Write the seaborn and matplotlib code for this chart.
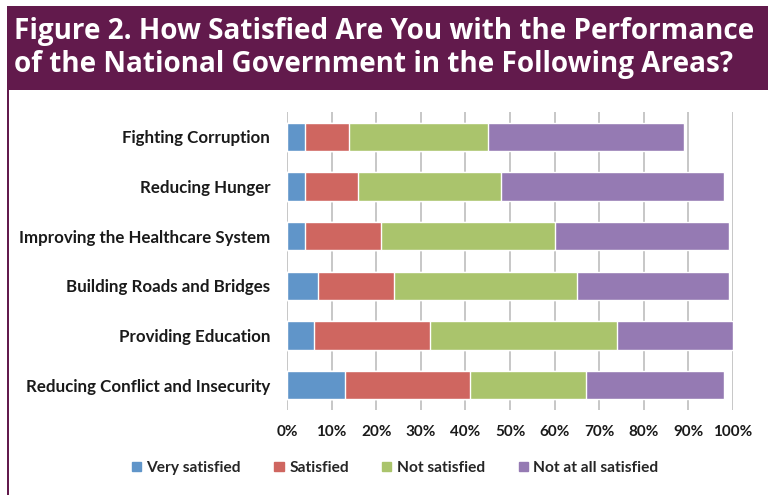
import numpy as np
import pandas as pd
import matplotlib
matplotlib.use("Agg")
import matplotlib.pyplot as plt
import matplotlib.patches as mpatches
import seaborn as sns

# ------------------------------------------------------------------
# Data (percent of respondents)
# ------------------------------------------------------------------
areas = [
    "Fighting Corruption",
    "Reducing Hunger",
    "Improving the Healthcare System",
    "Building Roads and Bridges",
    "Providing Education",
    "Reducing Conflict and Insecurity",
]
very_satisfied   = [4, 4, 4, 7, 6, 13]
satisfied        = [10, 12, 17, 17, 26, 28]
not_satisfied    = [31, 32, 39, 41, 42, 26]
not_at_all       = [44, 50, 39, 34, 26, 31]

series_names  = ["Very satisfied", "Satisfied", "Not satisfied", "Not at all satisfied"]
series_colors = ["#6095C9", "#CF6660", "#AAC46C", "#957AB3"]
x_ticks       = [0, 10, 20, 30, 40, 50, 60, 70, 80, 90, 100]

TITLE = ("Figure 2. How Satisfied Are You with the Performance\n"
         "of the National Government in the Following Areas?")
BAND_COLOR = "#621A4C"

# ------------------------------------------------------------------
sns.set_theme(style="white")
plt.rcParams["font.family"] = ["Lato", "DejaVu Sans"]

W, H = 768, 495
fig = plt.figure(figsize=(W / 100, H / 100), dpi=100)
fig.patch.set_facecolor("white")

# title band + frame line
fig.patches.append(mpatches.Rectangle((7 / W, 1 - 90 / H), 1, 84 / H,
                                      transform=fig.transFigure,
                                      facecolor=BAND_COLOR, edgecolor="none", zorder=0))
fig.patches.append(mpatches.Rectangle((7 / W, 0), 2 / W, 1 - 90 / H,
                                      transform=fig.transFigure,
                                      facecolor=BAND_COLOR, edgecolor="none", zorder=0))
fig.text(14 / W, 1 - 48 / H, TITLE, color="white", fontsize=20.1, fontweight="bold",
         family=["Open Sans", "DejaVu Sans"], va="center", ha="left", linespacing=1.22)

# ------------------------------------------------------------------
# stacked bars: draw cumulative totals from the outermost segment inward
# ------------------------------------------------------------------
ax = fig.add_axes([287 / W, 1 - 410 / H, 446 / W, 298 / H])

parts = np.array([very_satisfied, satisfied, not_satisfied, not_at_all], dtype=float)
cum = np.cumsum(parts, axis=0)

for i in range(len(series_names) - 1, -1, -1):
    df = pd.DataFrame({"area": areas, "value": cum[i]})
    sns.barplot(data=df, x="value", y="area", orient="h", color=series_colors[i],
                width=0.57, ax=ax, saturation=1, zorder=2)

ax.set_xlim(0, 100)
ax.set_ylim(len(areas) - 0.5, -0.5)
ax.set_xticks(x_ticks)
ax.set_xticklabels([f"{t}%" for t in x_ticks], fontsize=11, fontweight="bold",
                   color="#1a1a1a")
ax.tick_params(axis="x", length=0, pad=11)
ax.tick_params(axis="y", length=0, pad=12)
for lab in ax.get_yticklabels():
    lab.set_fontsize(12.2)
    lab.set_fontweight("bold")
    lab.set_color("#1a1a1a")
ax.set_xlabel("")
ax.set_ylabel("")
ax.grid(axis="x", color="#BDBDBD", linewidth=1.2, zorder=0)
ax.set_axisbelow(True)
for s in ax.spines.values():
    s.set_visible(False)

handles = [mpatches.Patch(color=c, label=n) for n, c in zip(series_names, series_colors)]
fig.legend(handles=handles, loc="center", bbox_to_anchor=(395 / W, 1 - 468 / H), ncol=4,
           frameon=False, handlelength=0.6, handleheight=0.6, handletextpad=0.35,
           columnspacing=2.15, prop={"size": 11.2, "weight": "bold"})

fig.savefig("out.png", dpi=100)
